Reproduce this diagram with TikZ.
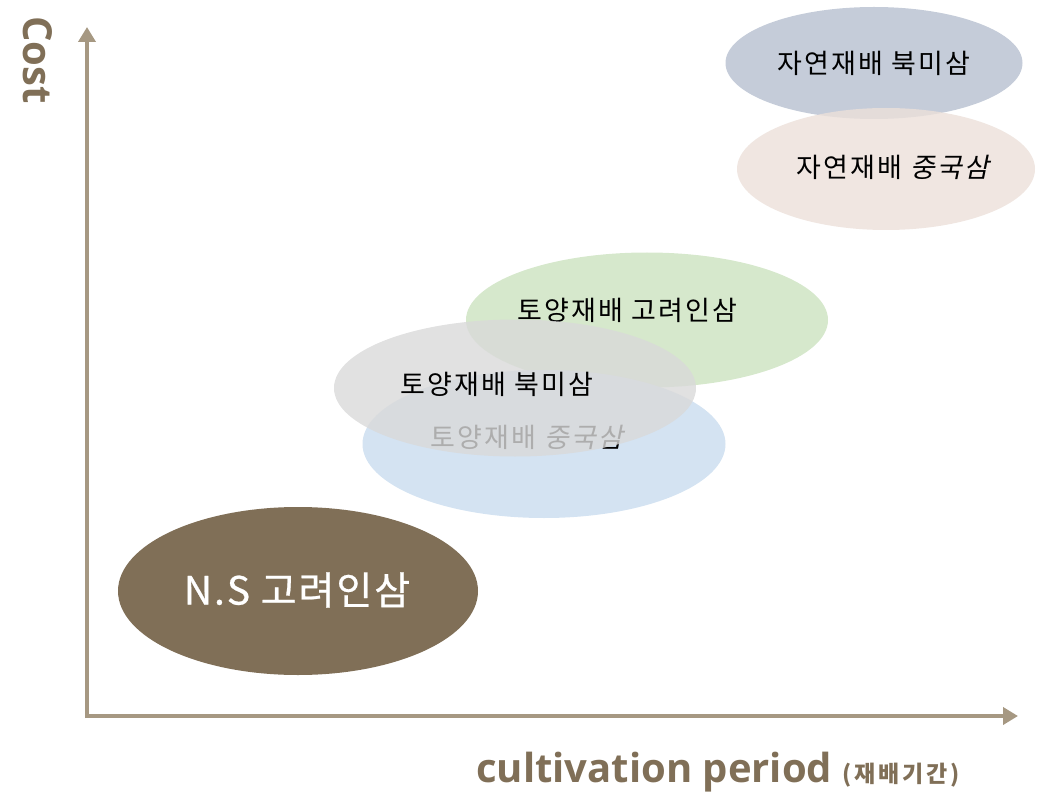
\documentclass[tikz,border=0pt]{standalone}
\usepackage{fontspec}
\setmainfont{Open Sans}
\newfontfamily\kor[LetterSpace=8]{Noto Sans CJK KR}
\newfontfamily\korit[LetterSpace=8,FakeSlant=0.2]{Noto Sans CJK KR}
\newfontfamily\korbig[LetterSpace=5,FakeBold=0.6]{Noto Sans CJK KR}
\newfontfamily\korsmall[LetterSpace=12]{Noto Sans CJK KR}
\usetikzlibrary{shapes.geometric,arrows.meta}
\definecolor{axisc}{RGB}{166,152,130}
\definecolor{brn}{RGB}{128,111,87}
\definecolor{slate}{RGB}{197,204,217}
\definecolor{sand}{RGB}{236,224,218}
\definecolor{leaf}{RGB}{214,232,204}
\definecolor{fog}{RGB}{217,217,217}
\definecolor{sky}{RGB}{212,227,242}

\begin{document}
\begin{tikzpicture}[x=1pt,y=-1pt,
	blob/.style={ellipse,inner sep=0pt},
	lab/.style={font=\kor\fontsize{27}{30}\selectfont},
	axis/.style={line width=4pt,draw=axisc,-{Triangle[width=17pt,length=15pt]}}]
		\useasboundingbox (0,0) rectangle (1038,794);
		%
		% ellipses
		\node[blob,fill=brn,minimum width=360,minimum height=168] (ns) at (298,591) {};
		\node[blob,fill=leaf,minimum width=362,minimum height=135] (tkr) at (647,320) {};
		\node[lab] (tkrl) at (627,310) {토양재배 고려인삼};
		\node[blob,fill=sky,minimum width=363,minimum height=148] (tcn) at (544,444) {};
		\node[lab] (tcnl) at (527,437) {토양재배 {\korit 중국삼}};
		\node[blob,fill=fog,fill opacity=0.8,minimum width=362,minimum height=137] (tna) at (515,388) {};
		\node[lab] (tnal) at (497,384) {토양재배 북미삼};
		\node[blob,fill=slate,minimum width=297,minimum height=112] (jna) at (874,63) {};
		\node[blob,fill=sand,fill opacity=0.8,minimum width=298,minimum height=122] (jcn) at (886,169) {};
		\node[lab] (jnal) at (874,63) {자연재배 북미삼};
		\node[lab] (jcnl) at (893,167) {자연재배 {\korit 중국삼}};
		\node[text=white,font=\korbig\fontsize{39}{42}\selectfont] (nsl) at (297,590) {N.S 고려인삼};
		%
		% axes
		\coordinate (o) at (87,716);
		\coordinate (ytop) at (87,27);
		\coordinate (xend) at (1018,716);
		\draw[axis] (87,718) -- (ytop);
		\draw[axis] (85,716) -- (xend);
		\node[rotate=-90,text=brn,font=\bfseries\fontsize{40}{40}\selectfont] (cost) at (38,60) {Cost};
		\node[anchor=base west,inner sep=0pt,text=brn,font=\bfseries\fontsize{40}{42}\selectfont] (per) at (476,782) {cultivation period {\korsmall\bfseries\fontsize{23}{26}\selectfont (재배기간)}};
\end{tikzpicture}
\end{document}
